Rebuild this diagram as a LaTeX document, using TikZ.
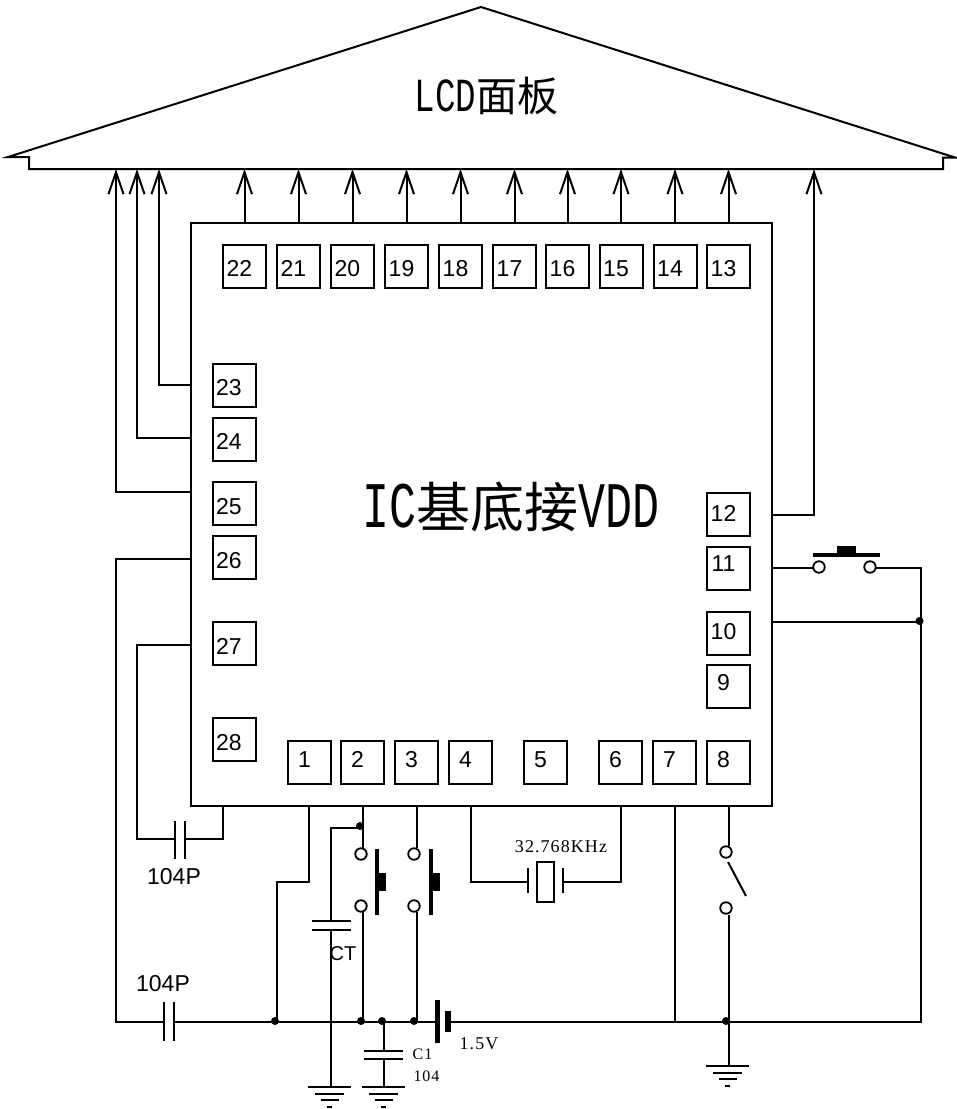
\documentclass[tikz,border=0pt]{standalone}
\usepackage{fontspec}
\usetikzlibrary{arrows.meta,calc}
\setmainfont{Liberation Sans}
\newfontfamily\serifrm[LetterSpace=6]{Liberation Serif}
\newfontfamily\monolat{Liberation Mono}
\newfontfamily\cjk{Noto Sans CJK SC}
\tikzset{
  wire/.style={line width=2pt,line join=miter},
  thickplate/.style={line width=#1,line cap=butt},
  arr/.style={wire,-{Straight Barb[length=22pt,width=15pt,line width=2pt]}},
  pad/.style={draw,line width=2pt,minimum width=43pt,minimum height=43pt,inner sep=0pt,font=\fontsize{23}{25}\selectfont},
  term/.style={circle,draw,line width=1.8pt,fill=white,minimum size=11.5pt,inner sep=0pt},
  dot/.style={circle,fill=black,minimum size=8pt,inner sep=0pt},
  lab/.style={inner sep=0pt,font=\fontsize{23}{25}\selectfont},
  slab/.style={inner sep=0pt,font=\serifrm\fontsize{16}{18}\selectfont},
  blab/.style={inner sep=0pt,font=\serifrm\fontsize{18}{20}\selectfont},
}
% name, x, y, upward shift of the number from the box centre
\newcommand{\padn}[4]{\node[pad] (p#1) at (#2,#3) {\raisebox{\dimexpr#4pt-8pt\relax}[0pt][0pt]{#1\kern10pt}};}
\newcommand{\gnd}[3]{% x, y, name
  \coordinate (#3) at (#1,#2);
  \draw[wire] ($(#3)+(-21.5,0)$) -- ($(#3)+(21.5,0)$);
  \draw[wire] ($(#3)+(-14.5,6.5)$) -- ($(#3)+(14.5,6.5)$);
  \draw[wire] ($(#3)+(-9,13)$) -- ($(#3)+(9,13)$);
  \draw[wire] ($(#3)+(-2.5,19.5)$) -- ($(#3)+(2.5,19.5)$);
}
\begin{document}
\begin{tikzpicture}[x=1pt,y=-1pt]
\useasboundingbox (0,0) rectangle (957,1109);
% LCD panel
\draw[wire] (8,157) -- (481,7) -- (955,157.5) -- (943,157.5) -- (943,169) -- (29,169) -- (29,157) -- cycle;
\coordinate (lcdb) at (481,169);
\node[inner sep=0pt] (lcdtext) at (486.5,96) {\scalebox{0.9}[1.25]{\monolat\fontsize{38}{40}\selectfont LCD}{\cjk\fontsize{41}{43}\selectfont 面板}};
% IC
\node[draw,line width=2pt,minimum width=581pt,minimum height=583pt,inner sep=0pt] (ic) at (481.5,514.5) {};
\node[inner sep=0pt] (ictext) at (511,507) {\scalebox{0.9}[1.3]{\monolat\fontsize{50}{52}\selectfont IC}{\cjk\fontsize{54}{56}\selectfont 基底接}\scalebox{0.9}[1.3]{\monolat\fontsize{50}{52}\selectfont VDD}};
% pads
\padn{22}{244.5}{266}{-2}\padn{21}{298.5}{266}{-2}\padn{20}{352.5}{266}{-2}\padn{19}{406.5}{266}{-2}\padn{18}{460.5}{266}{-2}
\padn{17}{514.5}{266}{-2}\padn{16}{567.5}{266}{-2}\padn{15}{621}{266}{-2}\padn{14}{675}{266}{-2}\padn{13}{728.5}{266}{-2}
\padn{23}{234}{385.5}{-1.5}\padn{24}{234}{439.5}{-1.5}\padn{25}{234}{503.5}{-2.5}\padn{26}{234}{557.5}{-2.5}\padn{27}{234}{643.5}{-2.5}\padn{28}{234}{739.5}{-2.5}
\padn{12}{728.5}{514.5}{1.5}\padn{11}{728.5}{568.5}{5.5}\padn{10}{728.5}{633.5}{2.5}\padn{9}{728.5}{686.5}{4.5}
\padn{1}{309.5}{762.5}{3.5}\padn{2}{362.5}{762.5}{3.5}\padn{3}{416.5}{762.5}{3.5}\padn{4}{470.5}{762.5}{3.5}\padn{5}{545.5}{762.5}{3.5}\padn{6}{620.5}{762.5}{3.5}\padn{7}{674.5}{762.5}{3.5}\padn{8}{728.5}{762.5}{3.5}
% top arrows
\foreach \n in {22,21,20,19,18,17,16,15,14,13}{
  \draw[arr] (ic.north -| p\n) -- (lcdb -| p\n);
}
% left arrows
\coordinate (a23) at (159,385);
\coordinate (a24) at (137,438);
\coordinate (a25) at (116,492);
\foreach \n in {23,24,25}{
  \draw[arr] (ic.west |- a\n) -- (a\n) -- (lcdb -| a\n);
}
% right arrow (12)
\coordinate (a12) at (814,514.5);
\draw[arr] (ic.east |- a12) -- (a12) -- (lcdb -| a12);
% bottom rail points
\coordinate (bl) at (116,1022);
\coordinate (br) at (920,1022);
% pin 26 and 104P
\coordinate (w26) at (116,559);
\coordinate (c1a) at (164,1022);
\coordinate (c1b) at (174,1022);
\draw[wire] (ic.west |- w26) -- (w26) -- (bl) -- (c1a);
\draw[wire] (164,1002) -- (164,1041);
\draw[wire] (174,1002) -- (174,1041);
% rail
\coordinate (batA) at (437,1022);
\coordinate (batB) at (448,1022);
\draw[wire] (c1b) -- (batA);
\draw[wire] (batB) -- (br);
\draw[thickplate=5pt] (437,1000) -- (437,1043);
\draw[thickplate=6pt] (448,1011) -- (448,1032);
\node[lab] (l104b) at (163,984) {104P};
\node[blab] (lbat) at (479,1044) {1.5V};
% pin 27 loop
\coordinate (w27) at (137,645);
\coordinate (w27b) at (137,838.5);
\coordinate (w28) at (223,838.5);
\draw[wire] (ic.west |- w27) -- (w27) -- (w27b) -- (175,838.5);
\draw[wire] (175,821) -- (175,859);
\draw[wire] (185,821) -- (185,859);
\draw[wire] (185,838.5) -- (w28) -- (ic.south -| w28);
\node[lab] (l104a) at (174,877) {104P};
% pin 1
\coordinate (w1) at (309,882);
\coordinate (w1b) at (277,882);
\node[dot] (d1) at (275,1021) {};
\draw[wire] (ic.south -| w1) -- (w1) -- (w1b) -- (w1b |- br);
% pin 2 switch
\node[term] (s2a) at (361,854) {};
\node[term] (s2b) at (361,906) {};
\node[dot] (d2t) at (360,826) {};
\node[dot] (d2) at (361,1021) {};
\draw[wire] (ic.south -| 363,0) -- (363,848);
\draw[wire] (363,912) -- (363,1021);
\draw[thickplate=3.6pt] (377,849) -- (377,915);
\fill (377,873) rectangle (386,891);
% CT
\coordinate (ctt) at (330.5,828);
\draw[wire] (d2t |- ctt) -- (ctt) -- (330.5,920);
\draw[wire] (312,920.5) -- (351,920.5);
\draw[wire] (312,930) -- (351,930);
\gnd{329.5}{1087}{g1}
\draw[wire] (330.5,930) -- (330.5,1087);
\node[inner sep=0pt,font=\fontsize{20}{22}\selectfont] (lct) at (343,954) {CT};
% pin 3 switch
\node[term] (s3a) at (414,854) {};
\node[term] (s3b) at (414,906) {};
\node[dot] (d3) at (414,1021) {};
\draw[wire] (ic.south -| 416.5,0) -- (416.5,848);
\draw[wire] (416.5,912) -- (416.5,1021);
\draw[thickplate=3.6pt] (431,849) -- (431,915);
\fill (431,873) rectangle (439.5,891);
% C1
\node[dot] (dc1) at (382,1021) {};
\draw[wire] (384,1021) -- (384,1051);
\draw[wire] (364,1051) -- (403,1051);
\draw[wire] (364,1059) -- (403,1059);
\gnd{383.5}{1087}{g2}
\draw[wire] (384,1059) -- (384,1087);
\node[slab] (lc1) at (422.5,1054) {C1};
\node[slab] (l104c) at (426.5,1076) {104};
% pin 4-6 crystal
\coordinate (w4) at (470.5,882);
\coordinate (w6) at (621,882);
\draw[wire] (ic.south -| w4) -- (w4) -- (528,882);
\draw[wire] (528,868) -- (528,893);
\draw[wire] (537,862) rectangle (554,902);
\draw[wire] (563,868) -- (563,893);
\draw[wire] (563,882) -- (w6) -- (ic.south -| w6);
\node[blab] (lx) at (561,847) {32.768KHz};
% pin 7
\coordinate (w7) at (675,1022);
\draw[wire] (ic.south -| w7) -- (w7);
% pin 8 switch
\node[term] (s8a) at (726,852) {};
\node[term] (s8b) at (726,908) {};
\node[dot] (d8) at (726,1021) {};
\draw[wire] (ic.south -| 728.5,0) -- (728.5,846);
\draw[wire] (728,862) -- (746,896);
\draw[wire] (728.5,915) -- (728.5,1066);
\gnd{727.5}{1066}{g3}
% pin 11 push button
\coordinate (w11) at (813,568);
\node[term] (s11a) at (819,567) {};
\node[term] (s11b) at (870,567) {};
\coordinate (w11r) at (921,568);
\draw[wire] (ic.east |- w11) -- (w11);
\draw[wire] (876,568) -- (w11r) -- (921,1022) -- (br);
\draw[thickplate=3.6pt] (813,555) -- (880,555);
\fill (837,546) rectangle (856,555);
% pin 10
\node[dot] (d10) at (919.5,621) {};
\draw[wire] (ic.east |- 0,622) -- (919.5,622);
\end{tikzpicture}
\end{document}
